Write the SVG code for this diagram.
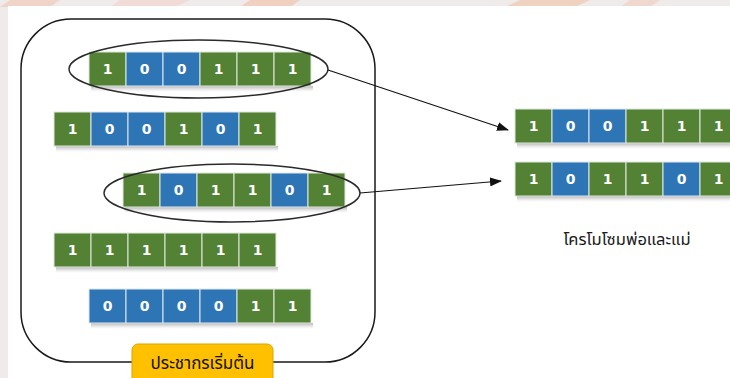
<svg xmlns="http://www.w3.org/2000/svg" width="730" height="378" viewBox="0 0 730 378">
  <defs>
    <style>
      .g { fill: #548235; stroke: #dfe7df; stroke-width: 1; }
      .b { fill: #2e75b6; stroke: #dfe7ef; stroke-width: 1; }
      .t { fill: #ffffff; font-family: "DejaVu Sans", Verdana, sans-serif; font-weight: bold; font-size: 14px; text-anchor: middle; }
      .sh { fill: url(#shade); }
      .ring { fill: none; stroke: #2a2a2a; stroke-width: 1.5; }
      .wire { fill: none; stroke: #111111; stroke-width: 1.2; marker-end: url(#head); }
      .th { font-family: "Noto Sans Thai", "Tahoma", "Loma", "DejaVu Sans", sans-serif; }
    </style>
    <linearGradient id="shade" x1="0" y1="0" x2="0" y2="1">
      <stop offset="0" stop-color="#9a9a9a" stop-opacity="0.75"/>
      <stop offset="1" stop-color="#cfcfcf" stop-opacity="0"/>
    </linearGradient>
    <marker id="head" markerWidth="12" markerHeight="9" refX="11" refY="4.5" orient="auto" markerUnits="userSpaceOnUse">
      <path d="M0,0 L12,4.5 L0,9 Z" fill="#111111"/>
    </marker>
  </defs>

  <!-- faint backdrop along the top and left edges -->
  <rect x="0" y="0" width="730" height="378" fill="#efebea"/>
  <g opacity="0.45">
    <polygon points="10,0 60,0 50,7 0,7" fill="#f2b9a0"/>
    <polygon points="120,0 190,0 175,7 110,7" fill="#f3c9c0"/>
    <polygon points="250,0 300,0 290,7 240,7" fill="#f0b090"/>
    <polygon points="520,0 590,0 575,7 505,7" fill="#f2b48e"/>
    <polygon points="630,0 660,0 650,7 620,7" fill="#f4c3b0"/>
  </g>
  <rect x="8" y="6" width="722" height="372" fill="#ffffff"/>

  <!-- initial population frame -->
  <g id="population">
    <rect x="21" y="19" width="354" height="343" rx="50" ry="50" fill="none" stroke="#1a1a1a" stroke-width="1.5"/>
  </g>

  <!-- chromosome 1: 100111 -->
  <g id="chrom1" transform="translate(89,52)">
    <rect class="sh" x="2" y="34" width="222" height="6"/>
    <rect class="g" x="0" y="0" width="37" height="34"/><rect class="b" x="37" y="0" width="37" height="34"/><rect class="b" x="74" y="0" width="37" height="34"/>
    <rect class="g" x="111" y="0" width="37" height="34"/><rect class="g" x="148" y="0" width="37" height="34"/><rect class="g" x="185" y="0" width="37" height="34"/>
    <text class="t" x="18.5" y="22">1</text><text class="t" x="55.5" y="22">0</text><text class="t" x="92.5" y="22">0</text>
    <text class="t" x="129.5" y="22">1</text><text class="t" x="166.5" y="22">1</text><text class="t" x="203.5" y="22">1</text>
  </g>

  <!-- chromosome 2: 100101 -->
  <g id="chrom2" transform="translate(54,112)">
    <rect class="sh" x="2" y="34" width="222" height="6"/>
    <rect class="g" x="0" y="0" width="37" height="34"/><rect class="b" x="37" y="0" width="37" height="34"/><rect class="b" x="74" y="0" width="37" height="34"/>
    <rect class="g" x="111" y="0" width="37" height="34"/><rect class="b" x="148" y="0" width="37" height="34"/><rect class="g" x="185" y="0" width="37" height="34"/>
    <text class="t" x="18.5" y="22">1</text><text class="t" x="55.5" y="22">0</text><text class="t" x="92.5" y="22">0</text>
    <text class="t" x="129.5" y="22">1</text><text class="t" x="166.5" y="22">0</text><text class="t" x="203.5" y="22">1</text>
  </g>

  <!-- chromosome 3: 101101 -->
  <g id="chrom3" transform="translate(123,173)">
    <rect class="sh" x="2" y="34" width="222" height="6"/>
    <rect class="g" x="0" y="0" width="37" height="34"/><rect class="b" x="37" y="0" width="37" height="34"/><rect class="g" x="74" y="0" width="37" height="34"/>
    <rect class="g" x="111" y="0" width="37" height="34"/><rect class="b" x="148" y="0" width="37" height="34"/><rect class="g" x="185" y="0" width="37" height="34"/>
    <text class="t" x="18.5" y="22">1</text><text class="t" x="55.5" y="22">0</text><text class="t" x="92.5" y="22">1</text>
    <text class="t" x="129.5" y="22">1</text><text class="t" x="166.5" y="22">0</text><text class="t" x="203.5" y="22">1</text>
  </g>

  <!-- chromosome 4: 111111 -->
  <g id="chrom4" transform="translate(54,233)">
    <rect class="sh" x="2" y="34" width="222" height="6"/>
    <rect class="g" x="0" y="0" width="37" height="34"/><rect class="g" x="37" y="0" width="37" height="34"/><rect class="g" x="74" y="0" width="37" height="34"/>
    <rect class="g" x="111" y="0" width="37" height="34"/><rect class="g" x="148" y="0" width="37" height="34"/><rect class="g" x="185" y="0" width="37" height="34"/>
    <text class="t" x="18.5" y="22">1</text><text class="t" x="55.5" y="22">1</text><text class="t" x="92.5" y="22">1</text>
    <text class="t" x="129.5" y="22">1</text><text class="t" x="166.5" y="22">1</text><text class="t" x="203.5" y="22">1</text>
  </g>

  <!-- chromosome 5: 000011 -->
  <g id="chrom5" transform="translate(89,289)">
    <rect class="sh" x="2" y="34" width="222" height="6"/>
    <rect class="b" x="0" y="0" width="37" height="34"/><rect class="b" x="37" y="0" width="37" height="34"/><rect class="b" x="74" y="0" width="37" height="34"/>
    <rect class="b" x="111" y="0" width="37" height="34"/><rect class="g" x="148" y="0" width="37" height="34"/><rect class="g" x="185" y="0" width="37" height="34"/>
    <text class="t" x="18.5" y="22">0</text><text class="t" x="55.5" y="22">0</text><text class="t" x="92.5" y="22">0</text>
    <text class="t" x="129.5" y="22">0</text><text class="t" x="166.5" y="22">1</text><text class="t" x="203.5" y="22">1</text>
  </g>

  <!-- selection rings around the chosen parents -->
  <g id="selected">
    <ellipse class="ring" cx="198.5" cy="69" rx="129.5" ry="29"/>
    <ellipse class="ring" cx="232" cy="193" rx="128" ry="29"/>
  </g>

  <!-- parent chromosome A: 100111 -->
  <g id="parentA" transform="translate(515,109)">
    <rect class="sh" x="2" y="34" width="222" height="6"/>
    <rect class="g" x="0" y="0" width="37" height="34"/><rect class="b" x="37" y="0" width="37" height="34"/><rect class="b" x="74" y="0" width="37" height="34"/>
    <rect class="g" x="111" y="0" width="37" height="34"/><rect class="g" x="148" y="0" width="37" height="34"/><rect class="g" x="185" y="0" width="37" height="34"/>
    <text class="t" x="18.5" y="22">1</text><text class="t" x="55.5" y="22">0</text><text class="t" x="92.5" y="22">0</text>
    <text class="t" x="129.5" y="22">1</text><text class="t" x="166.5" y="22">1</text><text class="t" x="203.5" y="22">1</text>
  </g>

  <!-- parent chromosome B: 101101 -->
  <g id="parentB" transform="translate(515,162)">
    <rect class="sh" x="2" y="34" width="222" height="6"/>
    <rect class="g" x="0" y="0" width="37" height="34"/><rect class="b" x="37" y="0" width="37" height="34"/><rect class="g" x="74" y="0" width="37" height="34"/>
    <rect class="g" x="111" y="0" width="37" height="34"/><rect class="b" x="148" y="0" width="37" height="34"/><rect class="g" x="185" y="0" width="37" height="34"/>
    <text class="t" x="18.5" y="22">1</text><text class="t" x="55.5" y="22">0</text><text class="t" x="92.5" y="22">1</text>
    <text class="t" x="129.5" y="22">1</text><text class="t" x="166.5" y="22">0</text><text class="t" x="203.5" y="22">1</text>
  </g>

  <!-- connectors -->
  <g id="connectors">
    <line class="wire" x1="328" y1="70" x2="508" y2="130"/>
    <line class="wire" x1="360" y1="193" x2="501" y2="181"/>
  </g>

  <!-- captions -->
  <g id="parents-label">
    <text class="th" x="627" y="245" font-size="16.5" text-anchor="middle" fill="#1a1a1a">โครโมโซมพ่อและแม่</text>
  </g>
  <g id="population-label">
    <rect x="132" y="344" width="141" height="40" rx="6" ry="6" fill="#ffc000" stroke="#d9a400" stroke-width="1"/>
    <text class="th" x="202.5" y="369" font-size="17" text-anchor="middle" fill="#111111">ประชากรเริ่มต้น</text>
  </g>
</svg>
